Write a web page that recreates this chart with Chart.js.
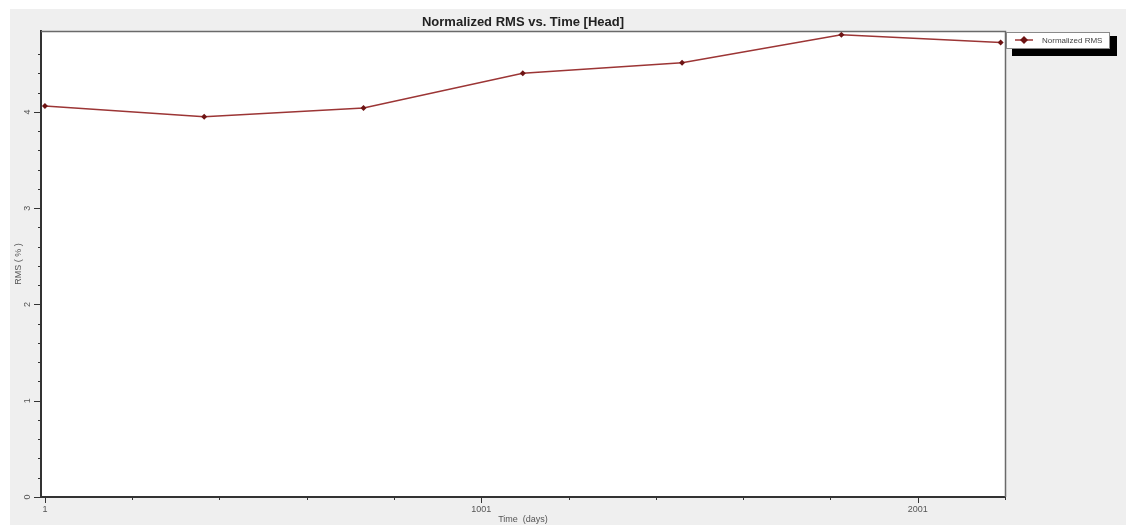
<!DOCTYPE html>
<html>
<head>
<meta charset="utf-8">
<script src="https://cdn.jsdelivr.net/npm/chart.js@4"></script>
<style>
    html, body { margin: 0; padding: 0; background: #ffffff; }
    #wrap { width: 1126px; height: 525px; position: relative; }
</style>
</head>
<body>
<div id="wrap"><canvas id="rmsChart"></canvas></div>
<script>
// Normalized RMS vs. Time [Head]
const chartTitle = 'Normalized RMS vs. Time [Head]';
const seriesLabel = 'Normalized RMS';
const days = [1, 366, 731, 1096, 1461, 1826, 2191];
const rmsValues = [4.06, 3.95, 4.04, 4.40, 4.51, 4.80, 4.72];
const xTickValues = [1, 201, 401, 601, 801, 1001, 1201, 1401, 1601, 1801, 2001, 2201];
const xLabelValues = [1, 1001, 2001];

const lineColor = '#9c3535';
const markerColor = '#6e1414';
const font = 'Liberation Sans, Arial, sans-serif';

// grey panel, white plot area, frame and tick marks
const framePlugin = {
    id: 'frame',
    beforeDraw(chart) {
        const ctx = chart.ctx;
        const a = chart.chartArea;
        ctx.save();
        ctx.fillStyle = '#efefef';
        ctx.fillRect(10, 9, chart.width - 10, chart.height - 9);
        ctx.fillStyle = '#ffffff';
        ctx.fillRect(a.left, a.top, a.right - a.left, a.bottom - a.top);
        ctx.restore();
    },
    afterDraw(chart) {
        const ctx = chart.ctx;
        const a = chart.chartArea;
        const x = chart.scales.x;
        const y = chart.scales.y;
        ctx.save();
        // top and right border
        ctx.strokeStyle = '#6a6a6a';
        ctx.lineWidth = 1.5;
        ctx.beginPath();
        ctx.moveTo(a.left, a.top + 0.5);
        ctx.lineTo(a.right + 0.5, a.top + 0.5);
        ctx.lineTo(a.right + 0.5, a.bottom);
        ctx.stroke();

        // tick marks
        ctx.strokeStyle = '#333333';
        ctx.lineWidth = 1;
        ctx.beginPath();
        xTickValues.forEach(v => {
            const px = Math.round(x.getPixelForValue(v)) + 0.5;
            const len = xLabelValues.includes(v) ? 6 : 3;
            ctx.moveTo(px, a.bottom);
            ctx.lineTo(px, a.bottom + len);
        });
        y.ticks.forEach(t => {
            const steps = t.value / 0.2;
            if (Math.abs(steps - Math.round(steps)) > 1e-6) return;
            const py = Math.round(y.getPixelForValue(t.value)) + 0.5;
            const major = Math.abs(t.value - Math.round(t.value)) < 1e-6;
            ctx.moveTo(a.left, py);
            ctx.lineTo(a.left - (major ? 7 : 3), py);
        });
        ctx.stroke();

        // title
        ctx.fillStyle = '#222222';
        ctx.font = 'bold 13px ' + font;
        ctx.textAlign = 'center';
        ctx.textBaseline = 'middle';
        ctx.fillText(chartTitle, (a.left + a.right) / 2, 22);

        // legend with drop shadow
        const lx = a.right + 1, ly = 32, lw = 103, lh = 16;
        ctx.fillStyle = '#000000';
        ctx.fillRect(lx + 6, ly + 4, lw + 2, lh + 4);
        ctx.fillStyle = '#ffffff';
        ctx.fillRect(lx, ly, lw, lh);
        ctx.strokeStyle = '#8a8a8a';
        ctx.lineWidth = 1;
        ctx.strokeRect(lx + 0.5, ly + 0.5, lw, lh);
        ctx.strokeStyle = lineColor;
        ctx.lineWidth = 1.5;
        ctx.beginPath();
        ctx.moveTo(lx + 9, ly + 8);
        ctx.lineTo(lx + 27, ly + 8);
        ctx.stroke();
        ctx.fillStyle = markerColor;
        ctx.beginPath();
        ctx.moveTo(lx + 18, ly + 4);
        ctx.lineTo(lx + 22, ly + 8);
        ctx.lineTo(lx + 18, ly + 12);
        ctx.lineTo(lx + 14, ly + 8);
        ctx.closePath();
        ctx.fill();
        ctx.fillStyle = '#444444';
        ctx.font = '8px ' + font;
        ctx.textAlign = 'left';
        ctx.fillText(chart.data.datasets[0].label, lx + 36, ly + 9);
        ctx.restore();
    }
};

window.onload = function() {
    const ctx = document.getElementById('rmsChart').getContext('2d');
    new Chart(ctx, {
        type: 'line',
        data: {
            datasets: [{
                label: seriesLabel,
                data: days.map((d, i) => ({ x: d, y: rmsValues[i] })),
                borderColor: lineColor,
                borderWidth: 1.5,
                pointStyle: 'rectRot',
                pointRadius: 3,
                pointBackgroundColor: markerColor,
                pointBorderColor: markerColor,
                pointBorderWidth: 0,
                tension: 0
            }]
        },
        options: {
            responsive: true,
            maintainAspectRatio: false,
            animation: false,
            layout: { padding: { left: 0, top: 31, right: 121, bottom: 0 } },
            plugins: {
                legend: { display: false },
                title: { display: false },
                tooltip: { enabled: false }
            },
            scales: {
                x: {
                    type: 'linear',
                    min: -8,
                    max: 2201,
                    afterFit: scale => { scale.height = 28; },
                    afterBuildTicks: scale => {
                        scale.ticks = xTickValues.map(v => ({ value: v }));
                    },
                    grid: { display: true, drawOnChartArea: false, drawTicks: false },
                    border: { display: true, color: '#333333', width: 2 },
                    ticks: {
                        padding: 7,
                        maxRotation: 0,
                        autoSkip: false,
                        color: '#555555',
                        font: { family: font, size: 9 },
                        callback: v => xLabelValues.includes(v) ? String(v) : ''
                    },
                    title: {
                        display: true,
                        text: 'Time  (days)',
                        color: '#555555',
                        font: { family: font, size: 9 },
                        padding: { top: 0, bottom: 0 }
                    }
                },
                y: {
                    min: 0,
                    max: 4.84,
                    afterFit: scale => { scale.width = 41; },
                    grid: { display: true, drawOnChartArea: false, drawTicks: false },
                    border: { display: true, color: '#333333', width: 2 },
                    ticks: {
                        stepSize: 0.2,
                        autoSkip: false,
                        minRotation: 90,
                        maxRotation: 90,
                        crossAlign: 'center',
                        padding: 11,
                        color: '#555555',
                        font: { family: font, size: 9 },
                        callback: v => Math.abs(v - Math.round(v)) < 1e-6 ? String(Math.round(v)) : ''
                    },
                    title: {
                        display: true,
                        text: 'RMS ( % )',
                        color: '#555555',
                        font: { family: font, size: 9 },
                        padding: { top: 13, bottom: 0 }
                    }
                }
            }
        },
        plugins: [framePlugin]
    });
};
</script>
</body>
</html>
